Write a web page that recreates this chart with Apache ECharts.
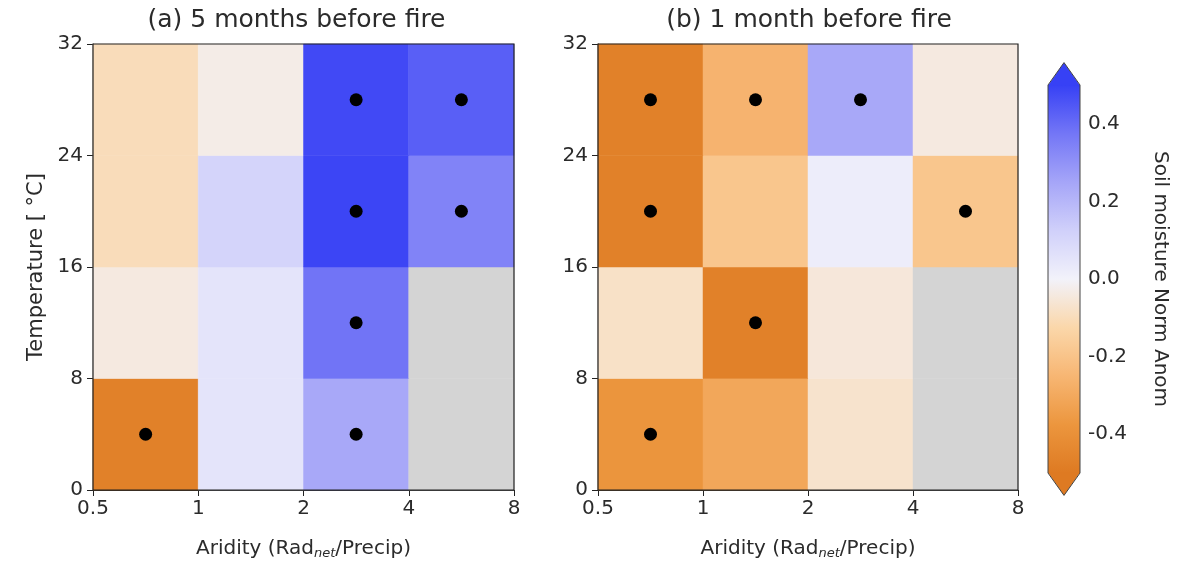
<!DOCTYPE html>
<html>
<head>
<meta charset="utf-8">
<script src="https://cdn.jsdelivr.net/npm/echarts@6/dist/echarts.min.js"></script>
<style>
  html, body { margin: 0; padding: 0; background: #fff; }
  #chart { width: 1183px; height: 561px; }
</style>
</head>
<body>
<div id="chart"></div>
<script>
// bin edges
const aridityEdges = [0.5, 1, 2, 4, 8];
const tempEdges = [0, 8, 16, 24, 32];

// soil moisture anomaly, rows = temperature bins (0-8 .. 24-32), cols = aridity bins
const soil5 = [
  [-0.47, 0.05, 0.24, null],
  [-0.04, 0.05, 0.38, null],
  [-0.10, 0.11, 0.49, 0.34],
  [-0.10, -0.03, 0.48, 0.43]
];
const soil1 = [
  [-0.38, -0.31, -0.07, null],
  [-0.08, -0.47, -0.05, null],
  [-0.47, -0.19, 0.02, -0.19],
  [-0.47, -0.26, 0.24, -0.04]
];
// significant cells (black dots)
const sig5 = [
  [1, 0, 1, 0],
  [0, 0, 1, 0],
  [0, 0, 1, 1],
  [0, 0, 1, 1]
];
const sig1 = [
  [1, 0, 0, 0],
  [0, 1, 0, 0],
  [1, 0, 0, 1],
  [1, 1, 1, 0]
];

const titles = ['(a) 5 months before fire', '(b) 1 month before fire'];
const colorbarTicks = [-0.4, -0.2, 0, 0.2, 0.4];
const cmapColors = ['#de7a22', '#ec963e', '#f7b673', '#fbd7aa', '#f2f2fa', '#d0d0fa', '#a5a5f8', '#7376f6', '#3741f5'];

const font = 'DejaVu Sans';
const txt = '#2b2b2b';

function cellData(vals) {
  const out = [];
  for (let j = 0; j < 4; j++) {
    for (let i = 0; i < 4; i++) {
      const v = vals[j][i];
      out.push([aridityEdges[i], tempEdges[j], v == null ? '-' : v, aridityEdges[i + 1], tempEdges[j + 1]]);
    }
  }
  return out;
}

function dotData(sig) {
  const out = [];
  for (let j = 0; j < 4; j++) {
    for (let i = 0; i < 4; i++) {
      if (sig[j][i]) {
        out.push([Math.sqrt(aridityEdges[i] * aridityEdges[i + 1]), (tempEdges[j] + tempEdges[j + 1]) / 2]);
      }
    }
  }
  return out;
}

function renderCell(params, api) {
  const v = api.value(2);
  const a = api.coord([api.value(0), api.value(4)]);
  const b = api.coord([api.value(3), api.value(1)]);
  const fill = (v == null || isNaN(v)) ? '#d4d4d4' : api.visual('color');
  return {
    type: 'rect',
    shape: { x: a[0], y: a[1], width: b[0] - a[0], height: b[1] - a[1] },
    style: { fill: fill, stroke: fill, lineWidth: 0.5 }
  };
}

function renderColorbar(params, api) {
  const a = api.coord([0, 0.5]);
  const b = api.coord([1, -0.5]);
  const w = b[0] - a[0];
  const ext = w * 0.7;
  const mid = (a[0] + b[0]) / 2;
  const stops = cmapColors.map((c, i) => ({ offset: i / (cmapColors.length - 1), color: c }));
  return {
    type: 'group',
    children: [
      {
        type: 'rect',
        shape: { x: a[0], y: a[1], width: w, height: b[1] - a[1] },
        style: { fill: new echarts.graphic.LinearGradient(0, 1, 0, 0, stops) }
      },
      {
        type: 'polygon',
        shape: { points: [[a[0], a[1] + 0.5], [mid, a[1] - ext], [b[0], a[1] + 0.5]] },
        style: { fill: cmapColors[cmapColors.length - 1] }
      },
      {
        type: 'polygon',
        shape: { points: [[a[0], b[1] - 0.5], [mid, b[1] + ext], [b[0], b[1] - 0.5]] },
        style: { fill: cmapColors[0] }
      },
      {
        type: 'polygon',
        shape: { points: [[a[0], a[1]], [mid, a[1] - ext], [b[0], a[1]], [b[0], b[1]], [mid, b[1] + ext], [a[0], b[1]]] },
        style: { fill: null, stroke: '#444', lineWidth: 1 }
      }
    ]
  };
}

const grids = [
  { left: 93, top: 44, width: 421, height: 446 },
  { left: 598, top: 44, width: 420, height: 446 }
];
const titleShift = [-12, -4];

function xAxisFor(idx) {
  return {
    type: 'log', logBase: 2, min: 0.5, max: 8, gridIndex: idx,
    axisLine: { show: true, lineStyle: { color: '#222', width: 1.2 } },
    axisTick: { show: true, length: 6, lineStyle: { color: '#222' } },
    axisLabel: { fontSize: 20, color: txt, fontFamily: font, margin: 9,
      formatter: v => String(Math.round(v * 10) / 10) },
    splitLine: { show: false },
    name: 'Aridity (Rad{sub|net}/Precip)', nameLocation: 'middle', nameGap: 48,
    nameTextStyle: { fontSize: 20, color: txt, fontFamily: font,
      rich: { sub: { fontSize: 13, fontStyle: 'italic', fontFamily: font, color: txt, verticalAlign: 'top', padding: [9, 0, 0, 0] } } }
  };
}

function yAxisFor(idx, withName) {
  return {
    type: 'value', min: 0, max: 32, interval: 8, gridIndex: idx,
    axisLine: { show: true, lineStyle: { color: '#222', width: 1.2 } },
    axisTick: { show: true, length: 6, lineStyle: { color: '#222' } },
    axisLabel: { fontSize: 20, color: txt, fontFamily: font, margin: 10 },
    splitLine: { show: false },
    name: withName ? 'Temperature [ °C]' : '', nameLocation: 'middle', nameGap: 46,
    nameTextStyle: { fontSize: 21, color: txt, fontFamily: font }
  };
}

const gridBase = { show: true, z: 10, backgroundColor: 'transparent', borderColor: '#222', borderWidth: 1.2, outerBoundsMode: 'none', containLabel: false };

const chart = echarts.init(document.getElementById('chart'));
chart.setOption({
  animation: false,
  backgroundColor: '#fff',
  title: titles.map((t, k) => ({
    text: t,
    left: grids[k].left + grids[k].width / 2 + titleShift[k],
    top: 3,
    textAlign: 'center',
    textStyle: { fontSize: 25, fontWeight: 'normal', color: txt, fontFamily: font }
  })),
  grid: [
    Object.assign({}, gridBase, grids[0]),
    Object.assign({}, gridBase, grids[1]),
    { left: 1048, top: 85, width: 32, height: 388, outerBoundsMode: 'none', containLabel: false }
  ],
  xAxis: [
    xAxisFor(0),
    xAxisFor(1),
    { type: 'value', gridIndex: 2, min: 0, max: 1, show: false }
  ],
  yAxis: [
    yAxisFor(0, true),
    yAxisFor(1, false),
    {
      type: 'value', gridIndex: 2, min: -0.5, max: 0.5, position: 'right',
      axisLine: { show: false },
      axisTick: { show: true, length: 6, lineStyle: { color: '#222' }, customValues: colorbarTicks },
      axisLabel: { fontSize: 20, color: txt, fontFamily: font, margin: 8, customValues: colorbarTicks,
        formatter: v => v.toFixed(1) },
      splitLine: { show: false },
      name: 'Soil moisture Norm Anom', nameLocation: 'middle', nameGap: 70, nameRotate: -90,
      nameTextStyle: { fontSize: 20, color: txt, fontFamily: font }
    }
  ],
  visualMap: {
    type: 'continuous', show: false, min: -0.5, max: 0.5, dimension: 2,
    seriesIndex: [0, 1],
    inRange: { color: cmapColors }
  },
  series: [
    { type: 'custom', xAxisIndex: 0, yAxisIndex: 0, renderItem: renderCell, data: cellData(soil5),
      encode: { x: [0, 3], y: [1, 4] }, silent: true },
    { type: 'custom', xAxisIndex: 1, yAxisIndex: 1, renderItem: renderCell, data: cellData(soil1),
      encode: { x: [0, 3], y: [1, 4] }, silent: true },
    { type: 'custom', xAxisIndex: 2, yAxisIndex: 2, renderItem: renderColorbar, data: [[0, -0.5, 1, 0.5]],
      encode: { x: [0, 2], y: [1, 3] }, silent: true },
    { type: 'scatter', xAxisIndex: 0, yAxisIndex: 0, data: dotData(sig5), symbolSize: 13,
      itemStyle: { color: '#000', opacity: 1 }, z: 5 },
    { type: 'scatter', xAxisIndex: 1, yAxisIndex: 1, data: dotData(sig1), symbolSize: 13,
      itemStyle: { color: '#000', opacity: 1 }, z: 5 }
  ]
});
</script>
</body>
</html>
